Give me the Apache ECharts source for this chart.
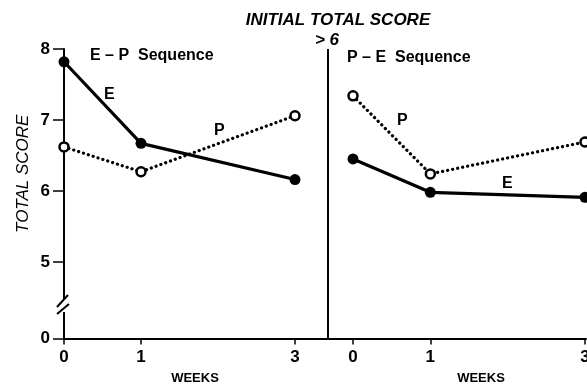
<!DOCTYPE html>
<html style="height: 100%">
<head>
	<meta charset="utf-8">
</head>
<body style="height: 100%; margin: 0; background: #fff">
<div id="container" style="width: 587px; height: 385px"></div>
<script type="text/javascript" src="https://cdn.jsdelivr.net/npm/echarts@6/dist/echarts.min.js"></script>
<script type="text/javascript">
    var weeks = [0, 1, 3];
    // E-P sequence (left panel)
    var epE = [7.82, 6.67, 6.16];
    var epP = [6.62, 6.27, 7.06];
    // P-E sequence (right panel)
    var peP = [7.34, 6.24, 6.69];
    var peE = [6.45, 5.98, 5.91];
    // y axis is broken between 0 and 5; the bottom "0" sits at 3.92 on the scale
    var yBottom = 3.92;
    var yTicks = [yBottom, 5, 6, 7, 8];

    var dom = document.getElementById("container");
    var myChart = echarts.init(dom);
    var font = 'Liberation Sans';

    function pairs(vals) {
        return weeks.map(function (w, i) { return [w, vals[i]]; });
    }

    var solidE = {
        type: 'line',
        symbol: 'circle',
        symbolSize: 11,
        itemStyle: { color: '#000' },
        lineStyle: { color: '#000', width: 3.2 },
        animation: false,
        z: 3
    };
    var dottedP = {
        type: 'line',
        symbol: 'circle',
        symbolSize: 9,
        itemStyle: { color: '#fff', borderColor: '#000', borderWidth: 2.5 },
        lineStyle: { color: '#000', width: 3.2, type: [0.1, 5], cap: 'round' },
        animation: false,
        z: 4
    };

    var xAxisBase = {
        type: 'value',
        min: 0,
        axisLine: { lineStyle: { color: '#000', width: 2 } },
        axisTick: { customValues: weeks, length: 6, lineStyle: { color: '#000', width: 1.5 } },
        axisLabel: {
            customValues: weeks, color: '#000', fontFamily: font, fontSize: 17,
            fontWeight: 'bold', margin: 10
        },
        splitLine: { show: false },
        name: 'WEEKS',
        nameLocation: 'middle',
        nameGap: 33,
        nameTextStyle: { color: '#000', fontFamily: font, fontSize: 13, fontWeight: 'bold' }
    };

    var option = {
        backgroundColor: '#fff',
        title: [{
            text: 'INITIAL TOTAL SCORE',
            left: 333, top: 7, textAlign: 'center',
            textStyle: { fontFamily: font, fontSize: 17, fontStyle: 'italic', fontWeight: 'bold', color: '#000' }
        }, {
            text: '> 6',
            left: 322, top: 27, textAlign: 'center',
            textStyle: { fontFamily: font, fontSize: 17, fontStyle: 'italic', fontWeight: 'bold', color: '#000' }
        }],
        grid: [
            { left: 64, top: 49, width: 289, height: 289.5, containLabel: false, outerBoundsMode: 'none' },
            { left: 353, top: 49, width: 233, height: 289.5, containLabel: false, outerBoundsMode: 'none' }
        ],
        xAxis: [
            Object.assign({}, xAxisBase, { gridIndex: 0, max: 289 / 77,
                nameTextStyle: Object.assign({}, xAxisBase.nameTextStyle, { padding: [0, 27, 0, 0] }) }),
            Object.assign({}, xAxisBase, { gridIndex: 1, max: 3 * 233 / 232,
                nameTextStyle: Object.assign({}, xAxisBase.nameTextStyle, { padding: [0, 0, 0, 23] }) })
        ],
        yAxis: [{
            gridIndex: 0,
            type: 'value',
            min: yBottom,
            max: 8,
            axisLine: { show: true, lineStyle: { color: '#000', width: 2 } },
            axisTick: { show: true, customValues: yTicks, length: 11, lineStyle: { color: '#000', width: 1.5 } },
            axisLabel: {
                customValues: yTicks, color: '#000', fontFamily: font, fontSize: 17, fontWeight: 'bold', margin: 14,
                formatter: function (v) { return v < 5 ? '0' : String(v); }
            },
            splitLine: { show: false },
            name: 'TOTAL SCORE',
            nameLocation: 'middle',
            nameGap: 32,
            nameTextStyle: { color: '#000', fontFamily: font, fontSize: 17, fontStyle: 'italic', padding: [0, 0, 0, 40] }
        }, {
            gridIndex: 1,
            type: 'value',
            min: yBottom,
            max: 8,
            show: false
        }],
        graphic: [
            // axis break on the left y axis
            { type: 'rect', shape: { x: 59, y: 299, width: 9, height: 13 }, style: { fill: '#fff' }, z: 50 },
            { type: 'line', shape: { x1: 57, y1: 307, x2: 68, y2: 295 }, style: { stroke: '#000', lineWidth: 2 }, z: 51 },
            { type: 'line', shape: { x1: 57, y1: 314, x2: 69, y2: 304 }, style: { stroke: '#000', lineWidth: 2 }, z: 51 },
            // panel and curve labels
            { type: 'text', left: 90, top: 48, style: { text: 'E \u2013 P  Sequence', font: 'bold 16px "Liberation Sans"', fill: '#000' } },
            { type: 'text', left: 347, top: 50, style: { text: 'P \u2013 E  Sequence', font: 'bold 16px "Liberation Sans"', fill: '#000' } },
            { type: 'text', left: 104, top: 87, style: { text: 'E', font: 'bold 16px "Liberation Sans"', fill: '#000' } },
            { type: 'text', left: 214, top: 123, style: { text: 'P', font: 'bold 16px "Liberation Sans"', fill: '#000' } },
            { type: 'text', left: 397, top: 113, style: { text: 'P', font: 'bold 16px "Liberation Sans"', fill: '#000' } },
            { type: 'text', left: 502, top: 176, style: { text: 'E', font: 'bold 16px "Liberation Sans"', fill: '#000' } }
        ],
        series: [
            Object.assign({}, solidE, { xAxisIndex: 0, yAxisIndex: 0, data: pairs(epE),
                markLine: {
                    silent: true, symbol: 'none', label: { show: false },
                    lineStyle: { color: '#000', width: 2, type: 'solid' },
                    data: [{ xAxis: 263 / 77 }]
                }
            }),
            Object.assign({}, dottedP, { xAxisIndex: 0, yAxisIndex: 0, data: pairs(epP) }),
            Object.assign({}, dottedP, { xAxisIndex: 1, yAxisIndex: 1, data: pairs(peP) }),
            Object.assign({}, solidE, { xAxisIndex: 1, yAxisIndex: 1, data: pairs(peE) })
        ]
    };

    myChart.setOption(option, true);
</script>
</body>
</html>
